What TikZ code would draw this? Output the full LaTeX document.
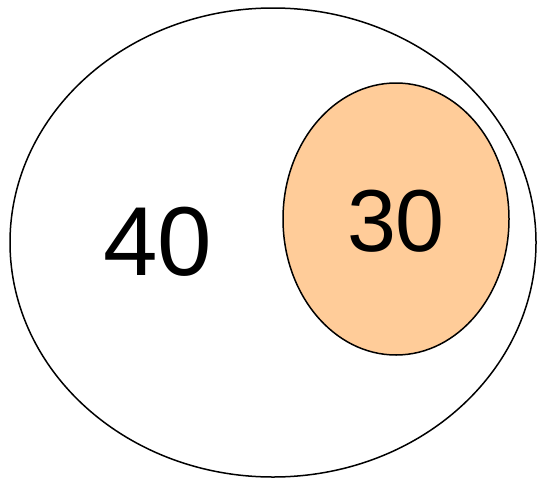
\documentclass[tikz,border=0pt]{standalone}
\usepackage{fontspec}
\setmainfont{Liberation Sans}
\definecolor{peach}{HTML}{FFCC99}
\begin{document}
\begin{tikzpicture}[x=1pt,y=-1pt,
  outline/.style={draw=black,line width=1.5pt},
  num/.style={inner sep=0pt,anchor=center}]
\useasboundingbox (0,0) rectangle (537,479);
\draw[outline] (273,242.5) ellipse [x radius=263, y radius=234.5];
\draw[outline,fill=peach] (396,219) ellipse [x radius=113, y radius=136];
\node[num] (a) at (158,242) {\fontsize{98}{98}\selectfont 40};
\node[num] (b) at (396,221) {\fontsize{88}{88}\selectfont 30};
\end{tikzpicture}
\end{document}
